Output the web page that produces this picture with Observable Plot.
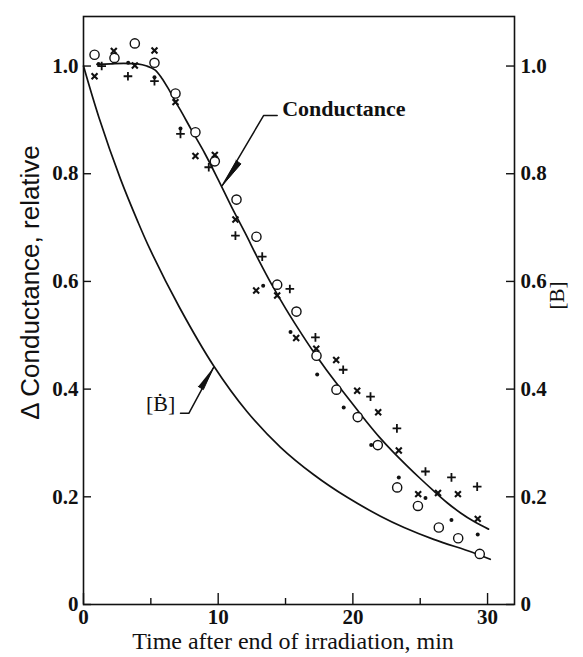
<!DOCTYPE html>
<html><head><meta charset="utf-8">
<script src="https://cdn.jsdelivr.net/npm/d3@7"></script>
<script src="https://cdn.jsdelivr.net/npm/@observablehq/plot@0.6"></script>
<style>body{margin:0;background:#fff}</style>
</head><body><div id="chart"></div>
<script>
// time (min), relative value
const circles = [[0.82,1.021],[2.3,1.015],[3.81,1.042],[5.27,1.006],[6.83,0.949],[8.31,0.877],[9.75,0.823],[11.36,0.752],[12.84,0.683],[14.38,0.594],[15.81,0.544],[17.3,0.462],[18.78,0.399],[20.36,0.348],[21.85,0.296],[23.29,0.2175],[24.83,0.183],[26.38,0.143],[27.82,0.123],[29.42,0.094]];
const crosses = [[0.82,0.981],[2.25,1.028],[3.81,1.001],[5.27,1.029],[6.83,0.933],[8.31,0.833],[9.75,0.835],[11.28,0.715],[12.82,0.583],[14.38,0.574],[15.79,0.495],[17.28,0.475],[18.76,0.454],[20.32,0.397],[21.88,0.357],[23.41,0.286],[24.85,0.205],[26.32,0.207],[27.8,0.205],[29.27,0.159]];
const pluses = [[1.35,1.0],[3.3,0.981],[5.27,0.972],[7.2,0.874],[9.3,0.812],[11.28,0.685],[13.27,0.646],[15.32,0.586],[17.22,0.496],[19.28,0.436],[21.31,0.386],[23.27,0.327],[25.39,0.247],[27.32,0.236],[29.23,0.219]];
const dots = [[1.12,1.004],[3.32,1.006],[5.27,0.979],[7.2,0.884],[13.34,0.592],[15.37,0.506],[17.35,0.427],[19.32,0.366],[21.36,0.296],[23.41,0.236],[25.39,0.198],[27.32,0.157],[29.27,0.130]];
const conductanceCurve = [[1.0,1.003],[2,1.004],[3,1.005],[4,1.004],[4.7,1.0],[5.3,0.993],[5.8,0.978],[6.3,0.958],[6.8,0.935],[7.2,0.918],[8,0.882],[9,0.838],[10,0.789],[11,0.738],[12,0.69],[13,0.64],[14,0.593],[15,0.55],[16,0.51],[17,0.472],[18,0.437],[19,0.404],[20,0.372],[21,0.340],[22,0.310],[23,0.283],[24,0.258],[25,0.234],[26,0.211],[27,0.189],[28,0.170],[29,0.154],[30.07,0.140]];
const bCurve = [[0,1.0],[1.14,0.905],[2.75,0.79],[4,0.713],[4.97,0.658],[7.1,0.553],[9.67,0.443],[12.15,0.358],[14.63,0.292],[17.1,0.241],[19.58,0.199],[22.05,0.164],[23.8,0.143],[26,0.121],[28.86,0.097],[30.2,0.084]];

const yTicks = [0, 0.2, 0.4, 0.6, 0.8, 1.0];
const xMajor = [0, 10, 20, 30];
const xMinor = [5, 15, 25];

// annotations (data coordinates)
const condLabel = [{t:14.75, v:0.921, text:"Conductance"}];
const condLeader = [[14.38,0.9083],[13.38,0.9083],[10.30,0.778]];
const condHead = [[10.30,0.7779],[11.69,0.8183],[11.32,0.8247]];
const bLabel = [{t:5.72, v:0.3725, text:"[Ḃ]"}];
const bLeader = [[7.2,0.355],[7.82,0.355],[9.65,0.440]];
const bHead = [[9.65,0.4400],[8.90,0.3991],[8.52,0.4050]];

const W = 583, H = 657, mL = 83, mR = 69, mT = 16, mB = 53;
const pw = W - mL - mR, ph = H - mT - mB;
const ink = "#111";
const fmt = d => d === 0 ? "0" : d.toFixed(1);
const tickFont = {fontFamily:"Liberation Serif", fontWeight:"bold", fontSize:21, fill:ink};

const chart = Plot.plot({
  width: W, height: H, marginLeft: mL, marginRight: mR, marginTop: mT, marginBottom: mB,
  x: {domain: [0, 32], axis: null},
  y: {domain: [0, 1.092], axis: null},
  style: {background: "#fff", fontFamily: "Liberation Serif"},
  marks: [
    Plot.frame({stroke: ink, strokeWidth: 1.6}),
    Plot.tickY(yTicks, {y: d => d, insetRight: pw - 8, stroke: ink, strokeWidth: 1.4}),
    Plot.tickY(yTicks, {y: d => d, insetLeft: pw - 8, stroke: ink, strokeWidth: 1.4}),
    Plot.tickX(xMajor, {x: d => d, insetTop: ph - 11, stroke: ink, strokeWidth: 1.4}),
    Plot.tickX(xMinor, {x: d => d, insetTop: ph - 6, stroke: ink, strokeWidth: 1.4}),
    Plot.text(yTicks, {x: 0, y: d => d, text: fmt, textAnchor: "end", dx: -5, ...tickFont}),
    Plot.text(yTicks, {x: 32, y: d => d, text: fmt, textAnchor: "start", dx: 6, ...tickFont}),
    Plot.text(xMajor, {x: d => d, y: 0, text: d => String(d), lineAnchor: "top", dy: 5, ...tickFont}),
    Plot.text(["Time after end of irradiation, min"], {frameAnchor: "bottom", text: d => d, textAnchor: "middle", lineAnchor: "middle", dx: -6, dy: 37, fontSize: 24, fill: ink}),
    Plot.text(["Δ Conductance, relative"], {frameAnchor: "left", text: d => d, textAnchor: "middle", lineAnchor: "middle", rotate: -90, dx: -53, dy: -28, fontSize: 26, fontFamily: "Liberation Sans", fill: ink}),
    Plot.text(["[B]"], {frameAnchor: "right", text: d => d, textAnchor: "middle", lineAnchor: "middle", rotate: -90, dx: 43, dy: -15, fontSize: 21, fill: ink}),
    Plot.line(conductanceCurve, {x: d => d[0], y: d => d[1], curve: "catmull-rom", stroke: ink, strokeWidth: 1.7}),
    Plot.line(bCurve, {x: d => d[0], y: d => d[1], curve: "catmull-rom", stroke: ink, strokeWidth: 1.7}),
    Plot.line(condLeader, {x: d => d[0], y: d => d[1], stroke: ink, strokeWidth: 1.5}),
    Plot.line(bLeader, {x: d => d[0], y: d => d[1], stroke: ink, strokeWidth: 1.5}),
    Plot.line(condHead, {x: d => d[0], y: d => d[1], fill: ink, stroke: ink, strokeWidth: 1}),
    Plot.line(bHead, {x: d => d[0], y: d => d[1], fill: ink, stroke: ink, strokeWidth: 1}),
    Plot.text(condLabel, {x: "t", y: "v", text: "text", textAnchor: "start", fontSize: 22, fontWeight: "bold", fill: ink}),
    Plot.text(bLabel, {x: "t", y: "v", text: "text", fontSize: 22, fill: ink}),
    Plot.dot(circles, {x: d => d[0], y: d => d[1], r: 4.6, fill: "#fff", stroke: ink, strokeWidth: 1.4}),
    Plot.dot(crosses, {x: d => d[0], y: d => d[1], symbol: "times", r: 2.8, stroke: ink, strokeWidth: 2.1}),
    Plot.dot(pluses, {x: d => d[0], y: d => d[1], symbol: "plus", r: 2.9, stroke: ink, strokeWidth: 1.8}),
    Plot.dot(dots, {x: d => d[0], y: d => d[1], r: 2, fill: ink, stroke: "none"})
  ]
});
document.getElementById("chart").append(chart);
</script></body></html>
